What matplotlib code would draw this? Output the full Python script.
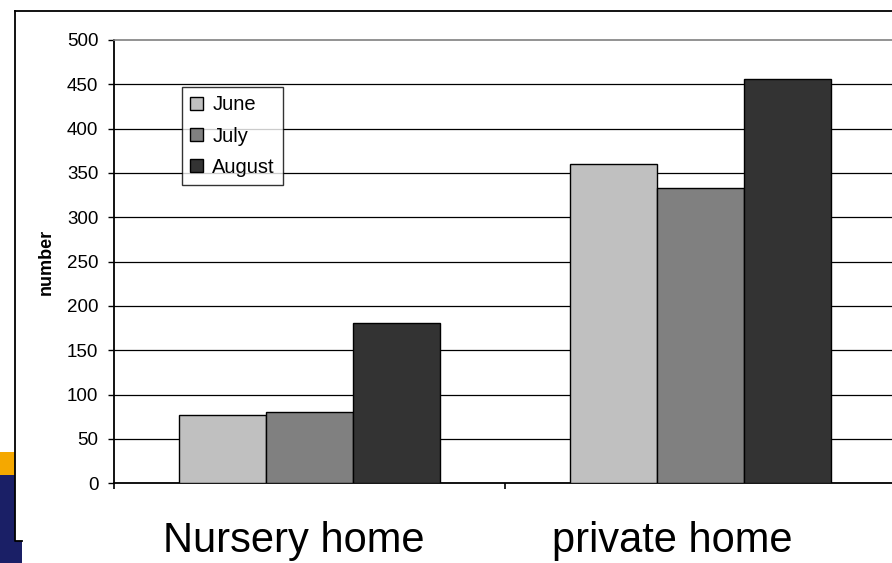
import matplotlib
matplotlib.use("Agg")
import matplotlib.pyplot as plt
from matplotlib.patches import Rectangle
from matplotlib.lines import Line2D
import numpy as np

plt.rcParams['font.family'] = ['Liberation Sans', 'DejaVu Sans']

categories = ["Nursery home", "private home"]
months = ["June", "July", "August"]
june = [77, 360]
july = [80, 333]
august = [181, 456]
yticks = [0, 50, 100, 150, 200, 250, 300, 350, 400, 450, 500]

colors = ["#C0C0C0", "#808080", "#333333"]

W, H = 892, 563
fig = plt.figure(figsize=(W / 100, H / 100), dpi=100)
fig.patch.set_facecolor("white")

def fx(px):
    return px / W

def fy(py):
    return 1 - py / H

# slide decoration on the left edge
fig.patches.append(Rectangle((0, fy(563)), fx(22), fy(475) - fy(563),
                             transform=fig.transFigure, facecolor="#1A1F66",
                             edgecolor="none", zorder=0))
fig.patches.append(Rectangle((0, fy(475)), fx(15), fy(452) - fy(475),
                             transform=fig.transFigure, facecolor="#F5A800",
                             edgecolor="none", zorder=0))
fig.patches.append(Rectangle((fx(15), fy(541)), 1, fy(11) - fy(541),
                             transform=fig.transFigure, facecolor="white",
                             edgecolor="none", zorder=0.5))
# chart frame
fig.lines.append(Line2D([fx(15), fx(15), fx(22)], [fy(11), fy(541), fy(541)],
                        transform=fig.transFigure, color="black", lw=1.3))
fig.lines.append(Line2D([fx(15), 1], [fy(11), fy(11)],
                        transform=fig.transFigure, color="black", lw=1.3))

ax = fig.add_axes([fx(114), fy(483.3), (896 - 114) / W, (483.3 - 40) / H])
ax.set_facecolor("none")
ax.set_zorder(3)

x = np.arange(len(categories))
bw = 0.222
series = [june, july, august]
for i, (vals, lab, c) in enumerate(zip(series, months, colors)):
    ax.bar(x + (i - 1) * bw, vals, width=bw, color=c, edgecolor="black",
           linewidth=1.0, label=lab, zorder=3)

ax.set_xlim(-0.5, 1.5)
ax.set_ylim(0, 500)
ax.set_yticks(yticks)
ax.set_yticklabels([str(t) for t in yticks], fontsize=13.5)
for t in yticks[1:-1]:
    ax.axhline(t, color="black", lw=0.9, zorder=1)

ax.set_xticks([-0.5, 0.5, 1.5])
ax.set_xticklabels([])
ax.tick_params(axis="x", direction="out", length=4.3, width=1.2)
ax.tick_params(axis="y", direction="out", length=4.3, width=1.0, pad=7)

ax.spines["right"].set_visible(False)
ax.spines["top"].set_color("#808080")
ax.spines["top"].set_linewidth(1.2)
ax.spines["left"].set_linewidth(1.3)
ax.spines["bottom"].set_linewidth(1.3)

ax.set_ylabel("number", fontsize=13, fontweight="bold", labelpad=9)

fig.text(fx(163), fy(552), categories[0], fontsize=30, ha="left", va="baseline", zorder=4)
fig.text(fx(792), fy(552), categories[1], fontsize=30, ha="right", va="baseline", zorder=4)

leg = ax.legend(loc="upper left", bbox_to_anchor=((182 - 114) / 782, (483.3 - 87) / 443.3),
                fontsize=14.5, frameon=True, fancybox=False, shadow=False,
                handlelength=0.6, handleheight=0.6, handletextpad=0.48,
                labelspacing=0.6, borderpad=0.42, borderaxespad=0)
leg.get_frame().set_edgecolor("black")
leg.get_frame().set_linewidth(1.0)
leg.set_zorder(5)

fig.savefig("out.png", dpi=100)
